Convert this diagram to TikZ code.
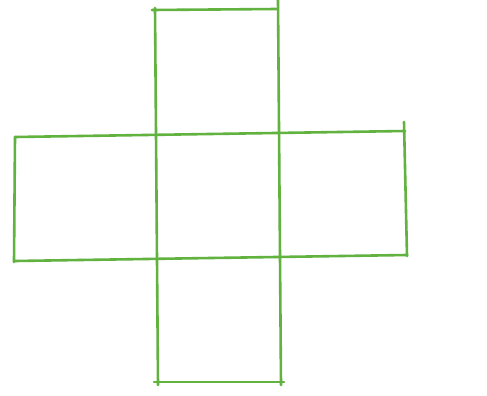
\documentclass[tikz,border=0pt]{standalone}
\begin{document}
\begin{tikzpicture}[x=1pt,y=-1pt,
  pen/.style={draw=penGreen,line width=2.6pt,line cap=round,line join=round}]
\definecolor{penGreen}{RGB}{98,178,64}
\useasboundingbox[fill=white] (0,0) rectangle (487,396);
% central column
\draw[pen] (155,8) -- (158,385);
\draw[pen] (278,0) -- (281,385);
% top square top edge
\draw[pen] (152,10) -- (277,9);
% horizontal band
\draw[pen] (15,137) -- (405,131);
\draw[pen] (15,261) -- (407,255);
\draw[pen] (15,137) -- (14,262);
\draw[pen] (404,122) -- (407,256);
% bottom edge
\draw[pen] (154,382) -- (284,382);
\end{tikzpicture}
\end{document}
